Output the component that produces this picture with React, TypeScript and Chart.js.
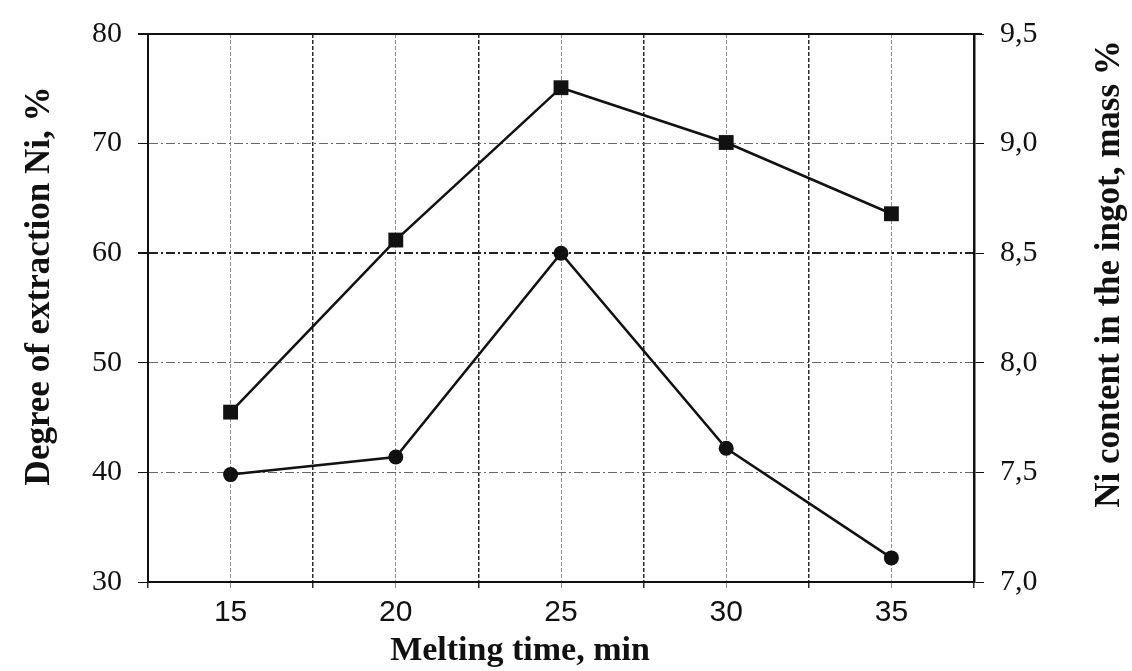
import React, { useEffect, useRef } from "react";
import { Chart, registerables } from "chart.js";

Chart.register(...registerables);

// ---- data ----
const meltingTime = [15, 20, 25, 30, 35];
const extractionDegree = [45.5, 61.2, 75.1, 70.1, 63.6];
const niContent = [7.49, 7.57, 8.5, 7.61, 7.11];
const xGridValues = [12.5, 15, 17.5, 20, 22.5, 25, 27.5, 30, 32.5, 35, 37.5];
const leftTicks = [30, 40, 50, 60, 70, 80];
const rightTicks = [7.0, 7.5, 8.0, 8.5, 9.0, 9.5];
const xTitle = "Melting time, min";
const leftTitle = "Degree of extraction Ni, %";
const rightTitle = "Ni content in the ingot, mass %";

const INK = "#111111";

const framePlugin = {
  id: "frameAndTitles",
  afterDraw(chart: any) {
    const ctx = chart.ctx;
    const a = chart.chartArea;
    ctx.save();
    // top frame line
    ctx.strokeStyle = INK;
    ctx.lineWidth = 2;
    ctx.beginPath();
    ctx.moveTo(a.left - 8, a.top);
    ctx.lineTo(a.right + 8, a.top);
    ctx.stroke();
    // axis titles
    ctx.fillStyle = INK;
    ctx.textAlign = "center";
    ctx.textBaseline = "middle";
    const draw = (t: string, x: number, y: number, rot: number) => {
      ctx.save();
      ctx.translate(x, y);
      ctx.rotate(rot);
      ctx.fillText(t, 0, 0);
      ctx.restore();
    };
    ctx.font = 'bold 35px "Liberation Serif"';
    draw(leftTitle, chart.scales.y.left + 40, a.top + 252, -Math.PI / 2);
    draw(rightTitle, chart.scales.y1.right - 22, a.top + 240, -Math.PI / 2);
    ctx.font = 'bold 34px "Liberation Serif"';
    draw(xTitle, a.left + 372, chart.scales.x.bottom - 20, 0);
    ctx.restore();
  },
};

export default function App() {
  const ref = useRef<HTMLCanvasElement | null>(null);

  useEffect(() => {
    if (!ref.current) return;
    const chart = new Chart(ref.current, {
      type: "line",
      data: {
        datasets: [
          {
            label: leftTitle,
            data: meltingTime.map((x, i) => ({ x, y: extractionDegree[i] })),
            yAxisID: "y",
            borderColor: INK,
            backgroundColor: INK,
            borderWidth: 2.5,
            pointStyle: "rect",
            pointRadius: 10.5,
            pointBorderWidth: 0,
            pointBackgroundColor: INK,
          },
          {
            label: rightTitle,
            data: meltingTime.map((x, i) => ({ x, y: niContent[i] })),
            yAxisID: "y1",
            borderColor: INK,
            backgroundColor: INK,
            borderWidth: 2.5,
            pointStyle: "circle",
            pointRadius: 7.5,
            pointBorderWidth: 0,
            pointBackgroundColor: INK,
          },
        ],
      },
      options: {
        animation: false,
        responsive: false,
        devicePixelRatio: 1,
        layout: { padding: { top: 34, left: 0, right: 0, bottom: 0 } },
        plugins: { legend: { display: false }, tooltip: { enabled: false } },
        scales: {
          x: {
            type: "linear",
            min: 12.5,
            max: 37.5,
            afterBuildTicks: (s: any) => {
              s.ticks = xGridValues.map((v) => ({ value: v }));
            },
            afterFit: (s: any) => {
              s.height = 89;
            },
            ticks: {
              autoSkip: false,
              maxRotation: 0,
              padding: 7,
              color: INK,
              font: { family: "Liberation Sans", size: 30 },
              callback: (v: any) => (meltingTime.includes(Number(v)) ? String(v) : ""),
            },
            grid: {
              color: (c: any) => (c.tick && c.tick.value % 5 === 0 ? "#8c8c8c" : "#2a2a2a"),
              lineWidth: (c: any) => (c.tick && c.tick.value % 5 === 0 ? 1 : 1.5),
              tickLength: 6,
              tickColor: (c: any) => (c.tick && c.tick.value % 5 === 0 ? "#8c8c8c" : "#2a2a2a"),
            },
            border: { color: INK, width: 2, dash: [4, 2] },
            title: { display: false },
          },
          y: {
            type: "linear",
            position: "left",
            min: 30,
            max: 80,
            afterBuildTicks: (s: any) => {
              s.ticks = leftTicks.map((v) => ({ value: v }));
            },
            afterFit: (s: any) => {
              s.width = 148;
            },
            ticks: {
              padding: 16,
              color: INK,
              font: { family: "Liberation Serif", size: 30 },
            },
            grid: {
              color: (c: any) => (c.tick && (c.tick.value === 60 || c.tick.value === 80) ? "#222" : "#666"),
              lineWidth: (c: any) => (c.tick && (c.tick.value === 60 || c.tick.value === 80) ? 2 : 1),
              tickLength: 10,
              tickColor: INK,
            },
            border: { color: INK, width: 2, dash: [9, 3, 2, 3] },
          },
          y1: {
            type: "linear",
            position: "right",
            min: 7,
            max: 9.5,
            afterBuildTicks: (s: any) => {
              s.ticks = rightTicks.map((v) => ({ value: v }));
            },
            afterFit: (s: any) => {
              s.width = 158;
            },
            ticks: {
              padding: 16,
              color: INK,
              font: { family: "Liberation Serif", size: 30 },
              callback: (v: any) => Number(v).toFixed(1).replace(".", ","),
            },
            grid: {
              drawOnChartArea: false,
              tickLength: 10,
              tickColor: INK,
            },
            border: { color: INK, width: 2.5 },
          },
        },
      },
      plugins: [framePlugin],
    } as any);
    return () => chart.destroy();
  }, []);

  return (
    <div style={{ position: "fixed", left: 0, top: 0, width: 1132, height: 671, background: "#fff" }}>
      <canvas ref={ref} width={1132} height={671} />
    </div>
  );
}
